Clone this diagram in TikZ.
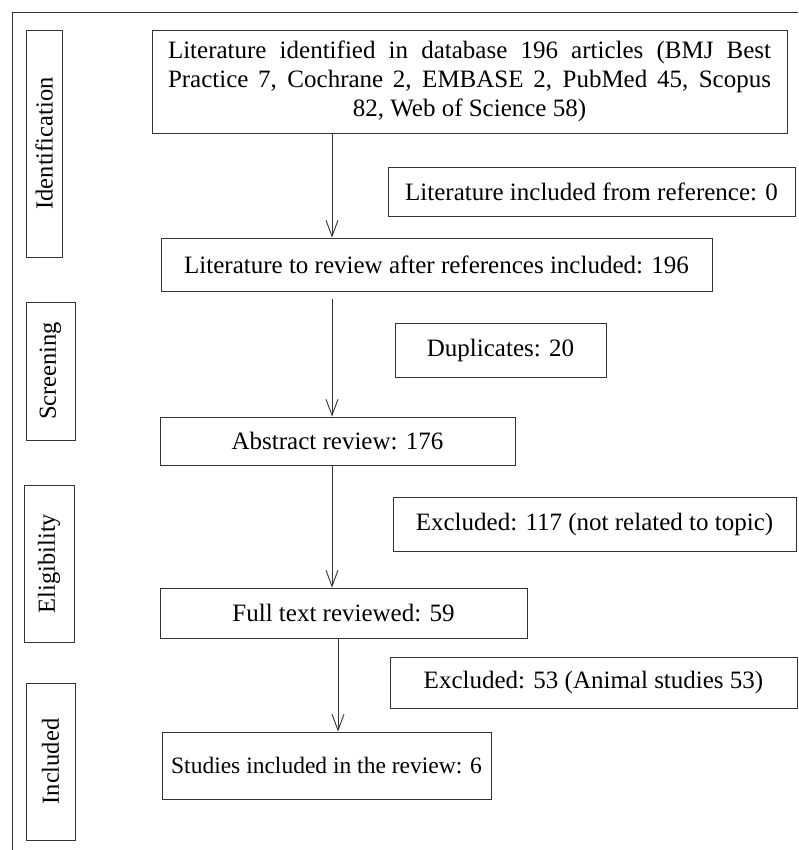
\documentclass[tikz,border=0pt]{standalone}
\usepackage{fontspec}
\setmainfont{Liberation Serif}
\usetikzlibrary{arrows.meta}

\begin{document}
\begin{tikzpicture}[x=1pt,y=1pt,
    box/.style={draw=black!80,line width=0.9pt,inner sep=0pt,align=center,
      font=\fontsize{25}{29}\selectfont},
    stage/.style={box,rotate=90,font=\fontsize{24.5}{29}\selectfont},
    arr/.style={draw=black!80,line width=0.9pt,
      -{Straight Barb[length=16pt,width=12pt]}}]
  \useasboundingbox (0,0) rectangle (798,850);
  % outer frame (runs off the page)
  \draw[black!80,line width=0.9pt] (798,838) -- (12,838) -- (12,0);

  % stage labels
  \node[stage,minimum width=227pt,minimum height=36pt] (ident) at (44,706.5) {Identification};
  \node[stage,minimum width=138pt,minimum height=49pt] (screen) at (50.5,479) {Screening};
  \node[stage,minimum width=157pt,minimum height=50pt] (elig) at (49,286.5) {Eligibility};
  \node[stage,minimum width=157pt,minimum height=49pt] (incl) at (50.5,88.5) {Included};

  % main column (justified, last line centred)
  \node[box,minimum width=635pt,minimum height=103pt] (lit) at (469.5,768.5)
    {\parbox{603pt}{\leavevmode\tolerance=10000\leftskip=0pt plus 1fil\relax
     \rightskip=0pt plus -1fil\relax\parfillskip=0pt plus 2fil\relax
     Literature identified in database 196 articles (BMJ Best\linebreak
     Practice 7, Cochrane 2, EMBASE 2, PubMed 45, Scopus\linebreak
     82, Web of Science 58)}};
  \node[box,minimum width=551pt,minimum height=53pt] (review) at (436.5,585.5)
    {Literature to review after references included: 196};
  \node[box,minimum width=355pt,minimum height=48pt] (abstract) at (337.5,409) {Abstract review: 176};
  \node[box,minimum width=367pt,minimum height=50pt] (fulltext) at (343.5,237) {Full text reviewed: 59};
  \node[box,minimum width=329pt,minimum height=67pt,font=\fontsize{23.5}{28}\selectfont] (studies)
    at (326.5,84.5) {Studies included in the review: 6};

  % side boxes
  \node[box,minimum width=407pt,minimum height=49pt] (fromref) at (591.5,658.5)
    {Literature included from reference: 0};
  \node[box,minimum width=211pt,minimum height=54pt] (dup) at (500.5,500) {Duplicates: 20};
  \node[box,minimum width=403pt,minimum height=54pt] (excla) at (594.5,326)
    {Excluded: 117 (not related to topic)};
  \node[box,minimum width=407pt,minimum height=51pt] (exclb) at (593.5,167.5)
    {Excluded: 53 (Animal studies 53)};

  % arrows
  \coordinate (spine) at (332,0);
  \coordinate (spinelow) at (338,0);
  \draw[arr] (spine |- lit.south) -- (spine |- review.north);
  \draw[arr,shorten <=8pt] (spine |- review.south) -- (spine |- abstract.north);
  \draw[arr] (spine |- abstract.south) -- (spine |- fulltext.north);
  \draw[arr] (spinelow |- fulltext.south) -- (spinelow |- studies.north);
\end{tikzpicture}
\end{document}
